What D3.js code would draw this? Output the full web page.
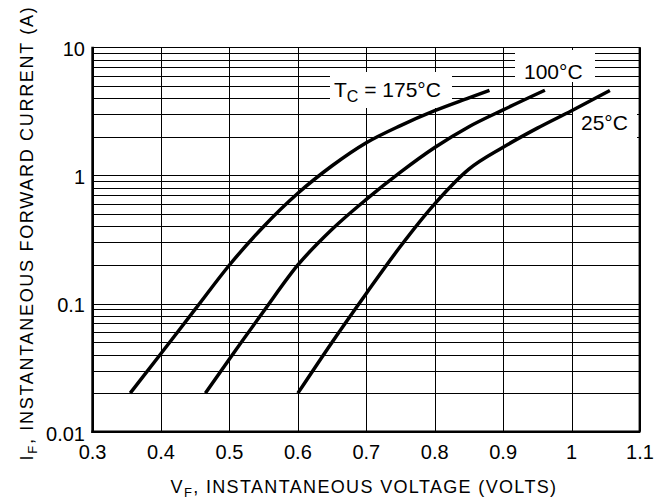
<!DOCTYPE html>
<html>
<head>
<meta charset="utf-8">
<script src="https://cdnjs.cloudflare.com/ajax/libs/d3/7.8.5/d3.min.js"></script>
<style>
  body { margin: 0; background: #fff; }
  svg text { font-family: Arial, "Liberation Sans", Helvetica, sans-serif; fill: #000; }
</style>
</head>
<body>
<script>
// forward voltage (V) vs forward current (A)
var vf175 = [0.355, 0.4, 0.45, 0.5, 0.55, 0.6, 0.65, 0.7, 0.75, 0.8, 0.85, 0.88];
var if175 = [0.02, 0.0408, 0.0904, 0.2, 0.4, 0.726, 1.19, 1.8, 2.45, 3.2, 4.03, 4.62];

var vf100 = [0.465, 0.5, 0.55, 0.6, 0.65, 0.7, 0.75, 0.8, 0.85, 0.9, 0.961];
var if100 = [0.02, 0.037, 0.087, 0.2, 0.38, 0.65, 1.06, 1.65, 2.4, 3.25, 4.62];

var vf25 = [0.6, 0.65, 0.7, 0.75, 0.8, 0.85, 0.9, 0.95, 1.0, 1.056];
var if25 = [0.02, 0.05, 0.12, 0.28, 0.6, 1.12, 1.66, 2.34, 3.2, 4.6];

var xTicks = [0.3, 0.4, 0.5, 0.6, 0.7, 0.8, 0.9, 1, 1.1];
var xTickLabels = ["0.3", "0.4", "0.5", "0.6", "0.7", "0.8", "0.9", "1", "1.1"];
var yTicks = [0.01, 0.1, 1, 10];
var yTickLabels = ["0.01", "0.1", "1", "10"];

var width = 661;
var height = 504;

var svg = d3.select("body").append("svg")
    .attr("width", width)
    .attr("height", height);

var x = d3.scaleLinear().domain([0.3, 1.1]).range([92.6, 640]);
var y = d3.scaleLog().domain([0.01, 10]).range([431.7, 47.3]);

// grid
var grid = svg.append("g").attr("stroke", "#000").attr("stroke-width", 1);
grid.selectAll("line.h")
    .data(y.ticks())
  .enter().append("line")
    .attr("class", "h")
    .attr("x1", x(0.3)).attr("x2", x(1.1))
    .attr("y1", function(d) { return Math.round(y(d)) + 0.5; })
    .attr("y2", function(d) { return Math.round(y(d)) + 0.5; });
grid.selectAll("line.v")
    .data(xTicks)
  .enter().append("line")
    .attr("class", "v")
    .attr("y1", y(10)).attr("y2", y(0.01))
    .attr("x1", function(d) { return Math.round(x(d)) + 0.5; })
    .attr("x2", function(d) { return Math.round(x(d)) + 0.5; });

// label boxes knock out the grid
var boxes = [
  {x0: 330, x1: 452, y0: 72, y1: 108},
  {x0: 515, x1: 595, y0: 50, y1: 82},
  {x0: 573, x1: 637, y0: 100, y1: 140}
];
svg.append("g").selectAll("rect")
    .data(boxes)
  .enter().append("rect")
    .attr("x", function(d) { return d.x0; })
    .attr("y", function(d) { return d.y0; })
    .attr("width", function(d) { return d.x1 - d.x0; })
    .attr("height", function(d) { return d.y1 - d.y0; })
    .attr("fill", "#fff");

var t175 = svg.append("text").attr("x", 334).attr("y", 96.5).attr("font-size", 21);
t175.append("tspan").text("T");
t175.append("tspan").attr("font-size", 16).attr("dy", 5).text("C");
t175.append("tspan").attr("dy", -5).text(" = 175\u00B0C");

svg.append("text").attr("x", 524).attr("y", 79.3).attr("font-size", 21).text("100\u00B0C");
svg.append("text").attr("x", 581).attr("y", 130).attr("font-size", 21).text("25\u00B0C");

// curves
var line = d3.line()
    .x(function(d) { return x(d[0]); })
    .y(function(d) { return y(d[1]); })
    .curve(d3.curveMonotoneX);

var series = [d3.zip(vf175, if175), d3.zip(vf100, if100), d3.zip(vf25, if25)];
svg.append("g").selectAll("path")
    .data(series)
  .enter().append("path")
    .attr("d", line)
    .attr("fill", "none")
    .attr("stroke", "#000")
    .attr("stroke-width", 3.5);

// frame: heavy left and bottom, light right
svg.append("line")
    .attr("x1", x(1.1) - 0.5).attr("x2", x(1.1) - 0.5)
    .attr("y1", y(10)).attr("y2", y(0.01))
    .attr("stroke", "#000").attr("stroke-width", 1.8);
svg.append("line")
    .attr("x1", x(0.3)).attr("x2", x(0.3))
    .attr("y1", y(10) - 0.5).attr("y2", y(0.01) + 1.2)
    .attr("stroke", "#000").attr("stroke-width", 2.6);
svg.append("line")
    .attr("x1", x(0.3) - 1.2).attr("x2", x(1.1) + 0.4)
    .attr("y1", y(0.01)).attr("y2", y(0.01))
    .attr("stroke", "#000").attr("stroke-width", 2.6);

// tick labels
svg.append("g").selectAll("text")
    .data(xTicks)
  .enter().append("text")
    .attr("x", function(d) { return x(d); })
    .attr("y", y(0.01) + 27.5)
    .attr("text-anchor", "middle")
    .attr("font-size", 20)
    .text(function(d, i) { return xTickLabels[i]; });

svg.append("g").selectAll("text")
    .data(yTicks)
  .enter().append("text")
    .attr("x", x(0.3) - 7.6)
    .attr("y", function(d) { return y(d) + 8.8; })
    .attr("text-anchor", "end")
    .attr("font-size", 20)
    .text(function(d, i) { return yTickLabels[i]; });

// axis titles
var xt = svg.append("text")
    .attr("x", 364).attr("y", 492.7)
    .attr("text-anchor", "middle")
    .attr("font-size", 18)
    .attr("letter-spacing", 1.35);
xt.append("tspan").text("V");
xt.append("tspan").attr("font-size", 13).attr("dy", 4).text("F");
xt.append("tspan").attr("dy", -4).text(", INSTANTANEOUS VOLTAGE (VOLTS)");

var yt = svg.append("text")
    .attr("transform", "translate(32.5,233) rotate(-90)")
    .attr("text-anchor", "middle")
    .attr("font-size", 18)
    .attr("letter-spacing", 1.7);
yt.append("tspan").text("I");
yt.append("tspan").attr("font-size", 13).attr("dy", 4).text("F");
yt.append("tspan").attr("dy", -4).text(", INSTANTANEOUS FORWARD CURRENT (A)");
</script>
</body>
</html>
